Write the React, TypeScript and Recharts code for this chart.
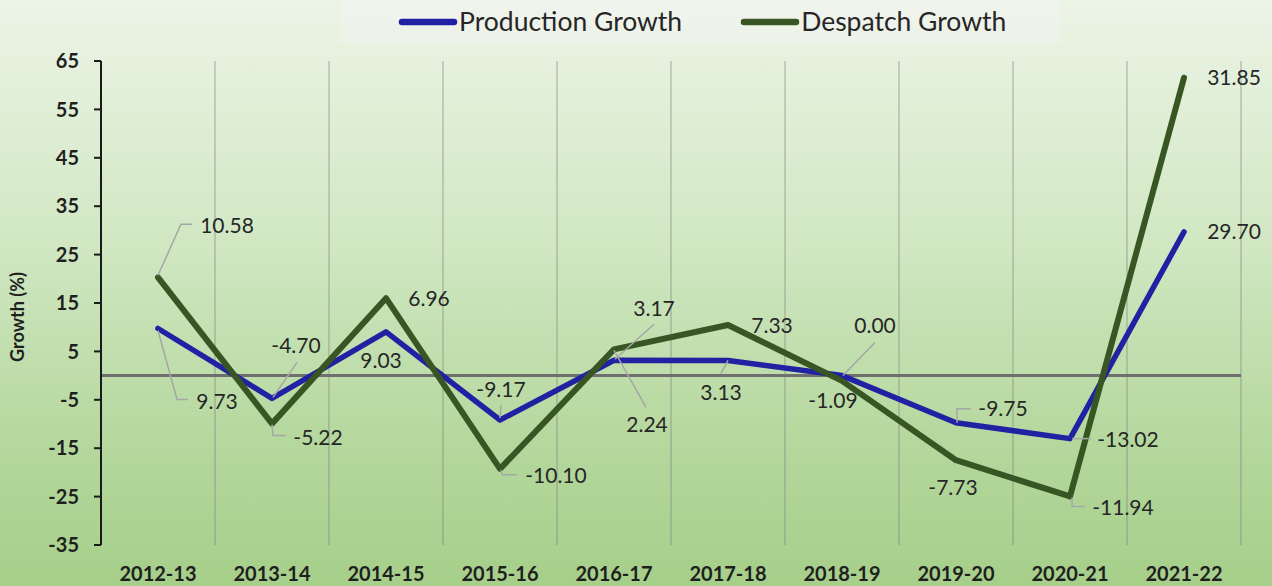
import React from 'react';
import { LineChart, Line, XAxis, YAxis, CartesianGrid, ReferenceLine, LabelList } from 'recharts';

const years = ['2012-13', '2013-14', '2014-15', '2015-16', '2016-17', '2017-18', '2018-19', '2019-20', '2020-21', '2021-22'];
const productionGrowth = [9.73, -4.7, 9.03, -9.17, 3.17, 3.13, 0.0, -9.75, -13.02, 29.7];
const despatchGrowth = [10.58, -5.22, 6.96, -10.1, 2.24, 7.33, -1.09, -7.73, -11.94, 31.85];
const yTicks = [-35, -25, -15, -5, 5, 15, 25, 35, 45, 55, 65];

const PROD_COLOR = '#2121A3';
const DESP_COLOR = '#375623';
const FONT = 'Lato, "Open Sans", sans-serif';
const TEXT = '#262626';
const LEADER = '#a6a6a6';

const series = [
  { key: 'production', name: 'Production Growth', color: PROD_COLOR },
  { key: 'despatch', name: 'Despatch Growth', color: DESP_COLOR },
];

// the original is an excel "stacked line": despatch is drawn on top of production
const data = years.map((year, i) => ({
  year,
  production: productionGrowth[i],
  despatch: despatchGrowth[i],
  despatchStacked: +(productionGrowth[i] + despatchGrowth[i]).toFixed(2),
}));

// where each data label sits relative to its point, plus optional leader line
type Place = { dx: number; dy: number; leader?: number[][] };

const prodPlaces: Place[] = [
  { dx: 59, dy: 73, leader: [[0, 2], [19, 71], [30, 71]] },
  { dx: 24, dy: -53, leader: [[1, -1], [25, -36]] },
  { dx: -5, dy: 29 },
  { dx: 1, dy: -31, leader: [[0, -2], [1, -15]] },
  { dx: 40, dy: -52, leader: [[1, -1], [40, -36]] },
  { dx: -7, dy: 32, leader: [[0, 0], [-7, 13]] },
  { dx: 33, dy: -50, leader: [[1, 0], [33, -33]] },
  { dx: 47, dy: -14, leader: [[1, 0], [1, -14], [15, -14]] },
  { dx: 58, dy: 1, leader: [[2, 0], [21, 0]] },
  { dx: 50, dy: 0 },
];

const despPlaces: Place[] = [
  { dx: 69, dy: -52, leader: [[0, -2], [23, -53], [34, -53]] },
  { dx: 46, dy: 14, leader: [[0, 1], [1, 12], [14, 12]] },
  { dx: 43, dy: 0 },
  { dx: 56, dy: 7, leader: [[1, 1], [2, 6], [17, 6]] },
  { dx: 33, dy: 75, leader: [[0, 1], [32, 58]] },
  { dx: 44, dy: 0 },
  { dx: -9, dy: 20 },
  { dx: -3, dy: 27 },
  { dx: 53, dy: 11, leader: [[2, 1], [2, 10], [15, 10]] },
  { dx: 50, dy: 0 },
];

const makeLabel = (places: Place[]) => (props: any) => {
  const x = props.x ?? props.viewBox?.x;
  const y = props.y ?? props.viewBox?.y;
  const p = places[props.index];
  if (!p || x == null || y == null) return null;
  return (
    <g>
      {p.leader && (
        <polyline
          points={p.leader.map(([a, b]) => `${x + a},${y + b}`).join(' ')}
          fill="none"
          stroke={LEADER}
          strokeWidth={1.5}
        />
      )}
      <text x={x + p.dx} y={y + p.dy} dy="0.36em" textAnchor="middle" fontFamily={FONT} fontSize={21} fill={TEXT}>
        {Number(props.value).toFixed(2)}
      </text>
    </g>
  );
};

const XTick = (props: any) => (
  <text x={props.x} y={props.y + 36} textAnchor="middle" fontFamily={FONT} fontSize={20} fontWeight="bold" fill="#1f1f1f">
    {props.payload.value}
  </text>
);

const YTitle = (props: any) => {
  const vb = props.viewBox || { x: 0, y: 61, width: 101, height: 484 };
  const cx = vb.x + 24;
  const cy = vb.y + vb.height / 2 + 14;
  return (
    <text transform={`translate(${cx},${cy}) rotate(-90)`} textAnchor="middle" fontFamily={FONT} fontSize={18} fontWeight="bold" fill="#1f1f1f">
      Growth (%)
    </text>
  );
};

export default function App() {
  return (
    <div
      style={{
        position: 'absolute',
        left: 0,
        top: 0,
        width: 1272,
        height: 586,
        background: 'linear-gradient(180deg, #ECF4E6 0%, #D2E8C4 40%, #B5D89E 75%, #A6CF8A 100%)',
        overflow: 'hidden',
      }}
    >
      {/* legend box, top centre */}
      <div
        style={{
          position: 'absolute',
          left: 340,
          top: 0,
          width: 720,
          height: 43,
          background: 'rgba(242,244,240,0.6)',
          display: 'flex',
          alignItems: 'center',
          paddingLeft: 58,
          boxSizing: 'border-box',
        }}
      >
        {series.map((s, i) => (
          <div key={s.key} style={{ display: 'flex', alignItems: 'center', marginLeft: i === 0 ? 0 : 58 }}>
            <svg width={60} height={10}>
              <line x1={4} y1={5} x2={56} y2={5} stroke={s.color} strokeWidth={6.5} strokeLinecap="round" />
            </svg>
            <span style={{ fontFamily: FONT, fontSize: 26.5, color: TEXT, marginLeft: 1, lineHeight: 1 }}>{s.name}</span>
          </div>
        ))}
      </div>

      <LineChart width={1272} height={586} data={data} margin={{ top: 61, right: 31, bottom: 0, left: 0 }}>
        <CartesianGrid
          horizontal={false}
          stroke="#7f7f7f"
          strokeOpacity={0.5}
          strokeWidth={1.3}
          verticalCoordinatesGenerator={({ offset }: any) =>
            years.map((_, i) => offset.left + (offset.width * (i + 1)) / years.length)
          }
        />
        <XAxis
          dataKey="year"
          axisLine={false}
          tickLine={false}
          tickSize={0}
          tickMargin={0}
          height={41}
          interval={0}
          padding={{ left: 57, right: 57 }}
          tick={<XTick />}
        />
        <YAxis
          type="number"
          width={101}
          domain={[-35, 65]}
          ticks={yTicks}
          interval={0}
          allowDataOverflow
          axisLine={{ stroke: '#1a1a1a', strokeWidth: 2 }}
          tickLine={{ stroke: '#1a1a1a', strokeWidth: 2 }}
          tickSize={7}
          tickMargin={15}
          tick={{ fontFamily: FONT, fontSize: 20, fontWeight: 'bold', fill: '#1f1f1f' }}
          label={{ content: YTitle }}
        />
        <ReferenceLine y={0} stroke="#6f6f6f" strokeWidth={3} />
        <Line
          type="linear"
          dataKey="production"
          name="Production Growth"
          stroke={PROD_COLOR}
          strokeWidth={5.5}
          strokeLinecap="round"
          strokeLinejoin="round"
          dot={false}
          activeDot={false}
          isAnimationActive={false}
        >
          <LabelList dataKey="production" content={makeLabel(prodPlaces)} />
        </Line>
        <Line
          type="linear"
          dataKey="despatchStacked"
          name="Despatch Growth"
          stroke={DESP_COLOR}
          strokeWidth={6}
          strokeLinecap="round"
          strokeLinejoin="round"
          dot={false}
          activeDot={false}
          isAnimationActive={false}
        >
          <LabelList dataKey="despatch" content={makeLabel(despPlaces)} />
        </Line>
      </LineChart>
    </div>
  );
}
